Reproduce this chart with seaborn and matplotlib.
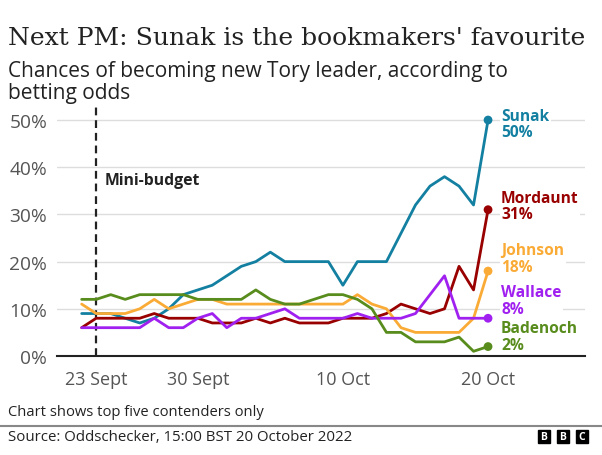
import matplotlib
matplotlib.use('Agg')
import matplotlib.pyplot as plt
from matplotlib.lines import Line2D
from matplotlib.patches import Rectangle
import seaborn as sns
import numpy as np
import pandas as pd

# Daily odds-implied chances (%), 22 Sept to 20 Oct 2022
dates = pd.date_range('2022-09-22', '2022-10-20', freq='D')
candidates = ['Sunak', 'Mordaunt', 'Johnson', 'Wallace', 'Badenoch']
sunak = [9, 9, 9, 8, 7, 8, 10, 13, 14, 15, 17, 19, 20, 22, 20, 20, 20, 20,
         15, 20, 20, 20, 26, 32, 36, 38, 36, 32, 50]
mordaunt = [6, 8, 8, 8, 8, 9, 8, 8, 8, 7, 7, 7, 8, 7, 8, 7, 7, 7,
            8, 8, 8, 9, 11, 10, 9, 10, 19, 14, 31]
johnson = [11, 9, 9, 9, 10, 12, 10, 11, 12, 12, 11, 11, 11, 11, 11, 11, 11, 11,
           11, 13, 11, 10, 6, 5, 5, 5, 5, 8, 18]
wallace = [6, 6, 6, 6, 6, 8, 6, 6, 8, 9, 6, 8, 8, 9, 10, 8, 8, 8,
           8, 9, 8, 8, 8, 9, 13, 17, 8, 8, 8]
badenoch = [12, 12, 13, 12, 13, 13, 13, 13, 12, 12, 12, 12, 14, 12, 11, 11, 12, 13,
            13, 12, 10, 5, 5, 3, 3, 3, 4, 1, 2]
colors = ['#1380A1', '#990000', '#FAAB36', '#A020F0', '#588C1C']
xtick_dates = ['2022-09-23', '2022-09-30', '2022-10-10', '2022-10-20']
xtick_labels = ['23 Sept', '30 Sept', '10 Oct', '20 Oct']
yticks = [0, 10, 20, 30, 40, 50]
mini_budget = '2022-09-23'

series = dict(zip(candidates, [sunak, mordaunt, johnson, wallace, badenoch]))
palette = dict(zip(candidates, colors))
df = pd.concat([pd.DataFrame({'date': dates, 'candidate': c, 'chance': v})
                for c, v in series.items()], ignore_index=True)

sns.set_theme(style='white')
plt.rcParams['font.family'] = ['Open Sans', 'DejaVu Sans']

W, H = 602, 456
fig = plt.figure(figsize=(W / 100, H / 100), dpi=100)


def fx(x):
    return x / W


def fy(y):
    return 1 - y / H


ax = fig.add_axes([fx(57), fy(357), fx(585) - fx(57), fy(105) - fy(357)])

ax.grid(axis='y', color='#dddddd', linewidth=1)
ax.set_axisbelow(True)
sns.lineplot(data=df, x='date', y='chance', hue='candidate', palette=palette,
             linewidth=2, legend=False, ax=ax, zorder=3)
last = df[df['date'] == dates[-1]]
sns.scatterplot(data=last, x='date', y='chance', hue='candidate', palette=palette,
                s=40, linewidth=0, legend=False, ax=ax, zorder=4)

ax.axvline(pd.Timestamp(mini_budget), color='#222222', lw=1.6,
           dashes=(3.5, 2.2), zorder=2)
ax.text(pd.Timestamp(mini_budget) + pd.Timedelta(days=0.55), 37.3, 'Mini-budget',
        fontsize=11.3, fontweight='bold', color='#222222', va='center')

# end labels
label_nudge = {'Sunak': -0.8, 'Mordaunt': 0.8, 'Johnson': 2.7,
               'Wallace': 3.8, 'Badenoch': 2.1}
for c in candidates:
    v = series[c][-1]
    ax.text(dates[-1] + pd.Timedelta(days=0.9), v + label_nudge[c],
            f'{c}\n{v}%', color=palette[c], fontsize=11.2, fontweight='bold',
            va='center', ha='left', linespacing=1.05, zorder=5,
            bbox=dict(fc='white', ec='none', pad=1))

ax.set_xlim(dates[0] - pd.Timedelta(days=1.70), dates[-1] + pd.Timedelta(days=6.68))
ax.set_ylim(0, 53.4)
ax.set_xticks(pd.to_datetime(xtick_dates))
ax.set_xticklabels(xtick_labels)
ax.set_yticks(yticks)
ax.set_yticklabels([f'{t}%' for t in yticks])
ax.tick_params(axis='both', length=0, labelsize=13, labelcolor='#555555')
ax.tick_params(axis='y', pad=7, labelsize=13.8)
ax.tick_params(axis='x', pad=10)
ax.set_xlabel('')
ax.set_ylabel('')
for s in ['left', 'right', 'top']:
    ax.spines[s].set_visible(False)
ax.spines['bottom'].set_color('#222222')
ax.spines['bottom'].set_linewidth(1.5)

# titles
fig.text(fx(8), fy(45), "Next PM: Sunak is the bookmakers' favourite",
         family=['DejaVu Serif'], fontsize=18.0, color='#222222', va='baseline')
fig.text(fx(8), fy(77), 'Chances of becoming new Tory leader, according to',
         fontsize=15.0, color='#222222', va='baseline')
fig.text(fx(8), fy(99), 'betting odds', fontsize=15.0, color='#222222', va='baseline')

# footer
fig.text(fx(8), fy(413), 'Chart shows top five contenders only', fontsize=10.6,
         color='#222222', va='center')
fig.add_artist(Line2D([0, 1], [fy(427), fy(427)], color='#888888', lw=1.5))
fig.text(fx(8), fy(438), 'Source: Oddschecker, 15:00 BST 20 October 2022',
         fontsize=10.8, color='#222222', va='center')
for i, letter in enumerate('BBC'):
    x0 = 537.5 + i * 19
    fig.add_artist(Rectangle((fx(x0), fy(444)), fx(12.7), fy(431) - fy(444),
                             transform=fig.transFigure, color='black'))
    fig.text(fx(x0 + 6.35), fy(437.5), letter, color='white', fontsize=7.5,
             fontweight='bold', ha='center', va='center')

fig.savefig('out.png', dpi=100)
